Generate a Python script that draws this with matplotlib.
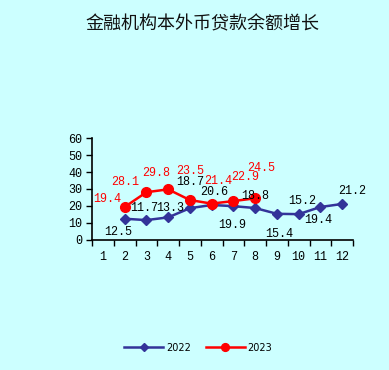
import matplotlib.pyplot as plt
import numpy as np

# data
months = [1, 2, 3, 4, 5, 6, 7, 8, 9, 10, 11, 12]
m2022 = [2, 3, 4, 5, 6, 7, 8, 9, 10, 11, 12]
v2022 = [12.5, 11.7, 13.3, 18.7, 20.6, 19.9, 18.8, 15.4, 15.2, 19.4, 21.2]
m2023 = [2, 3, 4, 5, 6, 7, 8]
v2023 = [19.4, 28.1, 29.8, 23.5, 21.4, 22.9, 24.5]
title = "金融机构本外币贷款余额增长"

# label offsets in pixels (dx, dy)
off2022 = [(-6, -13), (-2, 12), (2, 9), (0, 26), (3, 13), (-1, -19), (0, 12),
           (2, -20), (4, 13), (-2, -13), (10, 13)]
off2023 = [(-17, 8), (-21, 10), (-12, 16), (0, 29), (7, 23), (12, 24), (6, 30)]

bg = "#CCFFFF"
navy = "#333399"
numfont = "Liberation Mono"

fig = plt.figure(figsize=(3.89, 3.70), dpi=100, facecolor=bg)
ax = fig.add_axes([0.2365, 0.3514, 0.671, 0.2756], facecolor=bg)

ax.plot(m2022, v2022, color=navy, lw=1.8, marker="D", ms=5.5, label="2022", zorder=3)
ax.plot(m2023, v2023, color="red", lw=1.8, marker="o", ms=7, label="2023", zorder=4)

for x, y, (dx, dy) in zip(m2022, v2022, off2022):
    ax.annotate(f"{y:.1f}", (x, y), xytext=(dx, dy), textcoords="offset pixels",
                ha="center", va="center", fontsize=8.5, family=numfont,
                color="black", zorder=5)
for x, y, (dx, dy) in zip(m2023, v2023, off2023):
    ax.annotate(f"{y:.1f}", (x, y), xytext=(dx, dy), textcoords="offset pixels",
                ha="center", va="center", fontsize=8.5, family=numfont,
                color="red", zorder=5)

ax.set_xlim(0.5, 12.5)
ax.set_ylim(0, 60)
ax.set_yticks(np.arange(0, 61, 10))
ax.set_xticks(np.arange(0.5, 13, 1))
ax.set_xticklabels([])
ax.set_xticks(months, minor=True)
ax.set_xticklabels([str(m) for m in months], minor=True)
ax.tick_params(axis="x", which="major", direction="out", length=4, width=1)
ax.tick_params(axis="x", which="minor", length=0, pad=8)
ax.tick_params(axis="y", direction="out", length=4, width=1, pad=3)
for lab in ax.get_xticklabels(minor=True) + ax.get_yticklabels():
    lab.set_family(numfont)
    lab.set_fontsize(8.5)
for s in ["top", "right"]:
    ax.spines[s].set_visible(False)
for s in ["left", "bottom"]:
    ax.spines[s].set_linewidth(1.2)

fig.text(0.52, 0.935, title, ha="center", va="center", fontsize=13,
         family="Noto Sans CJK SC", color="#111111")

fig.legend(loc="center", bbox_to_anchor=(0.51, 0.06), ncol=2, frameon=False,
           fontsize=7, handlelength=4, columnspacing=1.5, handletextpad=0.3,
           markerscale=0.8)

fig.savefig("out.png", dpi=100, facecolor=bg)
